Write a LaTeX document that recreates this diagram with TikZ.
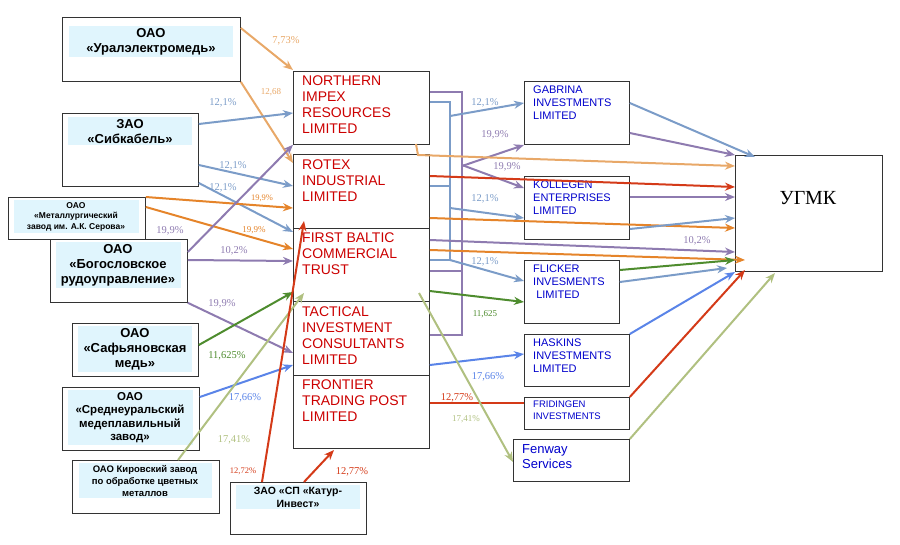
\documentclass[tikz,border=0pt]{standalone}
\usepackage{fontspec}
\usetikzlibrary{arrows.meta}
\setmainfont{Liberation Serif}
\newfontfamily\sansf{Liberation Sans}
\begin{document}
\begin{tikzpicture}[x=1pt,y=-1pt,
 box/.style={draw=black!80,line width=0.8pt,fill=white,anchor=north west,inner sep=0pt},
 co/.style={fill=cyan!12,anchor=north,align=center,font=\sansf\bfseries\fontsize{13}{15}\selectfont,inner sep=2pt},
 rt/.style={anchor=north west,align=left,text=red!80!black,font=\sansf\fontsize{14}{16}\selectfont,inner sep=0pt},
 bt/.style={anchor=north west,align=left,text=blue!80!black,font=\sansf\fontsize{11}{13}\selectfont,inner sep=0pt},
 lb/.style={font=\fontsize{10.5}{12}\selectfont,inner sep=1pt},
 ar/.style={line width=2pt,->,>={Stealth[length=10pt,width=8pt]}},
 ln/.style={line width=2pt},
]
\definecolor{cOl}{HTML}{E8A868}\definecolor{cBg}{HTML}{7B9CC8}\definecolor{cPu}{HTML}{8E7BB0}
\definecolor{cOr}{HTML}{E5842A}\definecolor{cRd}{HTML}{D43A18}\definecolor{cGn}{HTML}{4E8C2E}
\definecolor{cBb}{HTML}{5A84E8}\definecolor{cLg}{HTML}{B0C080}
\useasboundingbox (0,0) rectangle (900,544);
% left boxes
\node[box,minimum width=178,minimum height=64] (ural) at (62,17) {};
\node[co,minimum width=164] (uralt) at (151,26) {ОАО\\«Уралэлектромедь»};
\node[box,minimum width=136,minimum height=73] (sib) at (62,113) {};
\node[co,minimum width=124] (sibt) at (130,117) {ЗАО\\«Сибкабель»};
\node[box,minimum width=137,minimum height=42] (met) at (8,197) {};
\node[co,minimum width=125,font=\sansf\bfseries\fontsize{8.5}{10.5}\selectfont] (mett) at (76,200) {ОАО\\«Металлургический\\завод им. А.К. Серова»};
\node[box,minimum width=137,minimum height=63] (bog) at (50,239) {};
\node[co,minimum width=125] (bogt) at (118,242) {ОАО\\«Богословское\\рудоуправление»};
\node[box,minimum width=126,minimum height=53] (saf) at (72,323) {};
\node[co,minimum width=114] (saft) at (135,326) {ОАО\\«Сафьяновская\\медь»};
\node[box,minimum width=137,minimum height=63] (sre) at (62,387) {};
\node[co,minimum width=125,font=\sansf\bfseries\fontsize{11.5}{13.5}\selectfont] (sret) at (130,390) {ОАО\\«Среднеуральский\\медеплавильный\\завод»};
\node[box,minimum width=147,minimum height=53] (kir) at (72,460) {};
\node[co,minimum width=133,font=\sansf\bfseries\fontsize{9.5}{12}\selectfont] (kirt) at (145,463) {ОАО Кировский завод\\по обработке цветных\\металлов};
\node[box,minimum width=136,minimum height=52] (kat) at (230,482) {};
\node[co,minimum width=124,font=\sansf\bfseries\fontsize{10.5}{12.5}\selectfont] (katt) at (298,485) {ЗАО «СП «Катур-\\Инвест»};
% middle column
\node[box,minimum width=136,minimum height=73] (nor) at (293,71) {};
\node[rt] (nort) at (302,76) {NORTHERN\\IMPEX\\RESOURCES\\LIMITED};
\node[box,minimum width=136,minimum height=74] (rot) at (293,154) {};
\node[rt] (rott) at (302,160) {ROTEX\\INDUSTRIAL\\LIMITED};
\node[box,minimum width=136,minimum height=73] (fir) at (293,228) {};
\node[rt] (firt) at (302,233) {FIRST BALTIC\\COMMERCIAL\\TRUST};
\node[box,minimum width=136,minimum height=74] (tac) at (293,301) {};
\node[rt] (tact) at (302,307) {TACTICAL\\INVESTMENT\\CONSULTANTS\\LIMITED};
\node[box,minimum width=136,minimum height=73] (fro) at (293,375) {};
\node[rt] (frot) at (302,380) {FRONTIER\\TRADING POST\\LIMITED};
% right column
\node[box,minimum width=105,minimum height=63] (gab) at (524,81) {};
\node[bt] (gabt) at (533,86) {GABRINA\\INVESTMENTS\\LIMITED};
\node[box,minimum width=105,minimum height=63] (kol) at (524,176) {};
\node[bt] (kolt) at (533,181) {KOLLEGEN\\ENTERPRISES\\LIMITED};
\node[box,minimum width=95,minimum height=63] (fli) at (524,260) {};
\node[bt] (flit) at (533,265) {FLICKER\\INVESMENTS\\\ LIMITED};
\node[box,minimum width=105,minimum height=52] (has) at (524,334) {};
\node[bt] (hast) at (533,339) {HASKINS\\INVESTMENTS\\LIMITED};
\node[box,minimum width=105,minimum height=32] (fri) at (524,397) {};
\node[bt,font=\sansf\fontsize{9.5}{12}\selectfont] (frit) at (533,401) {FRIDINGEN\\INVESTMENTS};
\node[box,minimum width=116,minimum height=42] (fen) at (513,439) {};
\node[bt,font=\sansf\fontsize{13}{15}\selectfont] (fent) at (522,444) {Fenway\\Services};
\node[box,minimum width=147,minimum height=116] (ugm) at (735,155) {};
\node[font=\fontsize{20}{22}\selectfont] (ugmt) at (808,198) {УГМК};
% left edges
\draw[ar,cOl] (ural.north east|-0,28) -- (nor.west|-0,70);
\draw[ar,cOl] (ural.south east) -- (rot.west|-0,163);
\draw[ar,cBg] (sib.east|-0,124) -- (nor.west|-0,113);
\draw[ar,cBg] (sib.east|-0,165) -- (rot.west|-0,186);
\draw[ar,cBg] (sib.east|-0,183) -- (fir.west|-0,232);
\draw[ar,cOr] (met.east|-0,197) -- (rot.west|-0,208);
\draw[ar,cOr] (met.east|-0,207) -- (fir.west|-0,249);
\draw[ar,cPu] (bog.east|-0,252) -- (nor.south west);
\draw[ar,cPu] (bog.east|-0,260) -- (fir.west|-0,261);
\draw[ar,cPu] (bog.south east) -- (tac.west|-0,353);
\draw[ar,cGn] (saf.east|-0,345) -- (fir.west|-0,292);
\draw[ar,cBb] (sre.east|-0,397) -- (tac.west|-0,365);
\draw[ar,cLg] ([xshift=106]kir.north west) -- (304,293);
\draw[ar,cRd] ([xshift=32]kat.north west) -- (304,221);
\draw[ar,cRd] ([xshift=74]kat.north west) -- (334,450);
\node[lb,text=cOl] (l1) at (286,41) {7,73\%};
\node[lb,text=cOl,font=\fontsize{9}{10}\selectfont] (l2) at (271,92) {12,68};
\node[lb,text=cBg] (l3) at (223,103) {12,1\%};
\node[lb,text=cBg] (l4) at (233,166) {12,1\%};
\node[lb,text=cBg] (l5) at (223,188) {12,1\%};
\node[lb,text=cOr,font=\fontsize{8.5}{10}\selectfont] (l6) at (262,198) {19,9\%};
\node[lb,text=cOr,font=\fontsize{9}{10}\selectfont] (l7) at (254,230) {19,9\%};
\node[lb,text=cPu] (l8) at (170,231) {19,9\%};
\node[lb,text=cPu] (l9) at (234,251) {10,2\%};
\node[lb,text=cPu] (l10) at (222,304) {19,9\%};
\node[lb,text=cGn] (l11) at (227,356) {11,625\%};
\node[lb,text=cBb] (l12) at (245,398) {17,66\%};
\node[lb,text=cLg] (l13) at (234,440) {17,41\%};
\node[lb,text=cRd,font=\fontsize{8.5}{10}\selectfont] (l14) at (243,471) {12,72\%};
\node[lb,text=cRd] (l15) at (352,472) {12,77\%};
% bus lines
\draw[ln,cPu] (nor.east|-0,92) -- (462,92) -- (462,335) -- (tac.east|-0,335);
\draw[ln,cPu] (fir.east|-0,271) -- (462,271);
\draw[ln,cBg] (nor.east|-0,102) -- (450,102) -- (450,260);
\draw[ln,cBg] (rot.east|-0,186) -- (450,186);
\draw[ln,cBg] (fir.east|-0,260) -- (450,260);
\draw[ar,cBg] (450,116) -- (gab.west|-0,103);
\draw[ar,cBg] (450,208) -- (kol.west|-0,218);
\draw[ar,cBg] (450,260) -- (fli.west|-0,281);
\draw[ar,cPu] (462,166) -- (gab.west|-0,145);
\draw[ar,cPu] (462,165) -- (kol.west|-0,188);
\draw[ar,cOl] (416,144) -- (418,155) -- (ugm.west|-0,166);
\draw[ar,cRd] (rot.east|-0,176) -- (ugm.west|-0,187);
\draw[ar,cOr] (rot.east|-0,218) -- (ugm.west|-0,228);
\draw[ar,cPu] (fir.east|-0,240) -- (ugm.west|-0,252);
\draw[ar,cOr] (fir.east|-0,250) -- (745,260);
\draw[ar,cGn] (fir.east|-0,291) -- (fli.west|-0,302);
\draw[ar,cBb] (tac.east|-0,365) -- (has.west|-0,354);
\draw[ln,cRd] (fro.east|-0,403) -- (fri.west|-0,403);
\draw[ar,cLg] (419,293) -- (fen.west|-0,462);
% to UGMK
\draw[ar,cBg] (gab.east|-0,103) -- (755,157);
\draw[ar,cPu] (gab.east|-0,133) -- (ugm.north west);
\draw[ar,cPu] (kol.east|-0,197) -- (ugm.west|-0,197);
\draw[ar,cBg] (kol.east|-0,229) -- (ugm.west|-0,218);
\draw[ar,cGn] (fli.east|-0,270) -- (ugm.west|-0,260);
\draw[ar,cBg] (fli.east|-0,282) -- (727,268);
\draw[ar,cBb] (has.north east) -- (735,272);
\draw[ar,cRd] (fri.north east) -- (745,270);
\draw[ar,cLg] (fen.north east) -- (775,273);
\node[lb,text=cBg] (r1) at (485,103) {12,1\%};
\node[lb,text=cPu] (r2) at (495,135) {19,9\%};
\node[lb,text=cPu] (r3) at (507,167) {19,9\%};
\node[lb,text=cBg] (r4) at (485,199) {12,1\%};
\node[lb,text=cBg] (r5) at (485,262) {12,1\%};
\node[lb,text=cGn,font=\fontsize{9}{10}\selectfont] (r6) at (485,314) {11,625};
\node[lb,text=cBb] (r7) at (488,377) {17,66\%};
\node[lb,text=cRd] (r8) at (457,398) {12,77\%};
\node[lb,text=cLg,font=\fontsize{9}{10}\selectfont] (r9) at (466,419) {17,41\%};
\node[lb,text=cPu] (r10) at (697,241) {10,2\%};
\end{tikzpicture}
\end{document}
